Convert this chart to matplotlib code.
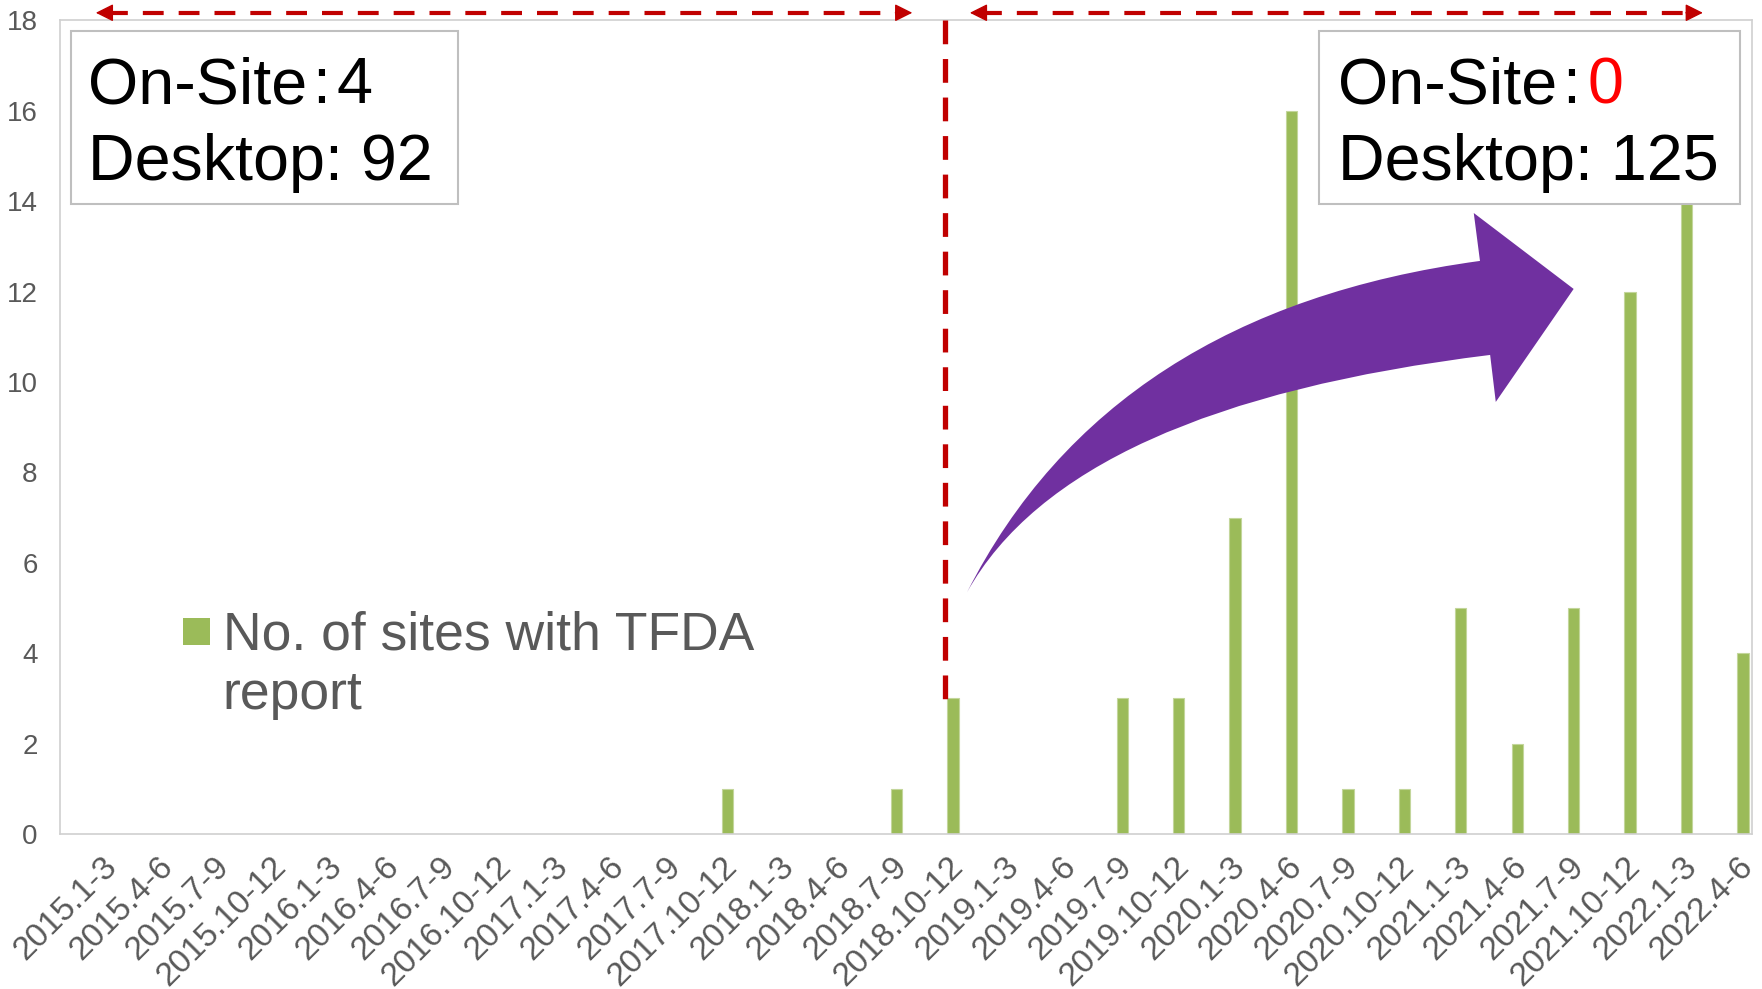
import matplotlib
matplotlib.use("Agg")
import matplotlib.pyplot as plt
from matplotlib.patches import Rectangle, PathPatch
from matplotlib.path import Path
from matplotlib.transforms import ScaledTranslation

plt.rcParams['font.family'] = ['Liberation Sans', 'DejaVu Sans']

# quarters on the x axis
quarters = ['2015.1-3', '2015.4-6', '2015.7-9', '2015.10-12',
            '2016.1-3', '2016.4-6', '2016.7-9', '2016.10-12',
            '2017.1-3', '2017.4-6', '2017.7-9', '2017.10-12',
            '2018.1-3', '2018.4-6', '2018.7-9', '2018.10-12',
            '2019.1-3', '2019.4-6', '2019.7-9', '2019.10-12',
            '2020.1-3', '2020.4-6', '2020.7-9', '2020.10-12',
            '2021.1-3', '2021.4-6', '2021.7-9', '2021.10-12',
            '2022.1-3', '2022.4-6']

# no. of sites with TFDA report per quarter
sites = [0, 0, 0, 0, 0, 0, 0, 0, 0, 0, 0, 1, 0, 0, 1, 3,
         0, 0, 3, 3, 7, 16, 1, 1, 5, 2, 5, 12, 14, 4]

yticks = [0, 2, 4, 6, 8, 10, 12, 14, 16, 18]

before = {'onsite': '4', 'desktop': '92'}
after = {'onsite': '0', 'desktop': '125'}

grey = '#595959'
green = '#9BBB59'
red = '#C00000'
purple = '#7030A0'

fig = plt.figure(figsize=(17.62, 9.89), dpi=100)
ax = fig.add_axes([0.034, 0.1567, 0.9603, 0.8226])

x = list(range(len(quarters)))
ax.bar(x, sites, width=0.2, color=green, edgecolor='#C3D69B', linewidth=0.8, zorder=2)

ax.set_xlim(-0.826, 29.16)
ax.set_ylim(0, 18)
ax.set_yticks(yticks)
ax.set_xticks(x)
ax.set_xticklabels(quarters, rotation=45, ha='right', rotation_mode='anchor')
ax.tick_params(axis='x', length=0, pad=12, labelsize=24, labelcolor=grey)
ax.tick_params(axis='y', length=0, pad=16, labelsize=20, labelcolor=grey)
shift = ScaledTranslation(-4 / 72, 0, fig.dpi_scale_trans)
for lbl in ax.get_xticklabels():
    lbl.set_transform(lbl.get_transform() + shift)
for s in ax.spines.values():
    s.set_color('#D0D0D0')
    s.set_linewidth(1.2)

# cut-over line between on-site and desktop periods
ax.plot([14.86, 14.86], [18, 2.67], color=red, lw=3.8,
        linestyle=(0, (4.5, 2.8)), zorder=3, clip_on=False)

# period arrows above the plot
def period(x0, x1, y=18.17):
    ax.plot([x0 + 0.2, x1 - 0.2], [y, y], color=red, lw=3,
            linestyle=(0, (5, 3.6)), clip_on=False, zorder=5)
    for tip, tail in [(x0, x0 + 0.3), (x1, x1 - 0.3)]:
        ax.annotate('', xy=(tip, y), xytext=(tail, y), annotation_clip=False,
                    arrowprops=dict(arrowstyle='-|>,head_length=0.6,head_width=0.3',
                                    mutation_scale=18, color=red, lw=1,
                                    shrinkA=0, shrinkB=0))

period(-0.19, 14.28)
period(15.30, 28.29)

# big curved arrow
verts = [(15.25, 5.35), (17.78, 11.57), (24.34, 12.68), (24.23, 13.74),
         (26.0, 12.06), (24.62, 9.56), (24.52, 10.60), (17.09, 9.47),
         (15.25, 5.35), (15.25, 5.35)]
codes = [Path.MOVETO, Path.CURVE3, Path.CURVE3, Path.LINETO, Path.LINETO,
         Path.LINETO, Path.LINETO, Path.CURVE3, Path.CURVE3, Path.CLOSEPOLY]
ax.add_patch(PathPatch(Path(verts, codes), facecolor=purple, edgecolor='none', zorder=4))

# summary boxes
def summary(bx, bw, tx, vals, vcolor):
    ax.add_patch(Rectangle((bx, 13.93), bw, 3.83, facecolor='white',
                           edgecolor='#BFBFBF', lw=1.5, zorder=5, clip_on=False))
    t1 = ax.text(tx, 16.17, 'On-Site', fontsize=46.5, va='baseline', zorder=6)
    t2 = ax.annotate(':', xy=(1, 0), xycoords=t1, xytext=(3.5, 0),
                     textcoords='offset points', fontsize=46.5, va='bottom', zorder=6)
    ax.annotate(vals['onsite'], xy=(1, 0), xycoords=t2, xytext=(5, 0),
                textcoords='offset points', fontsize=46.5, va='bottom',
                color=vcolor, zorder=6)
    ax.text(tx, 14.47, 'Desktop: ' + vals['desktop'], fontsize=46.5,
            va='baseline', zorder=6)

summary(-0.634, 6.87, -0.33, before, 'black')
summary(21.485, 7.47, 21.83, after, '#FF0000')

# legend
ax.add_patch(Rectangle((1.354, 4.18), 0.478, 0.6, facecolor=green,
                       edgecolor='none', zorder=6))
ax.text(2.06, 4.09, 'No. of sites with TFDA', fontsize=38.5, color=grey, va='baseline')
ax.text(2.06, 2.76, 'report', fontsize=38.5, color=grey, va='baseline')

fig.savefig('out.png', dpi=100)
